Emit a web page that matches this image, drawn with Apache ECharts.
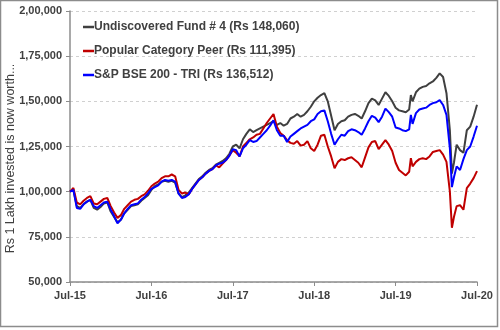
<!DOCTYPE html>
<html>
<head>
<meta charset="utf-8">
<script src="https://cdn.jsdelivr.net/npm/echarts@6/dist/echarts.min.js"></script>
<style>
html,body{margin:0;padding:0;background:#fff;}
#c{width:500px;height:330px;}
</style>
</head>
<body>
<div id="c"></div>
<script>
// months since Jul-2015
const months = [0,0.5,1,1.5,2,2.5,3,3.5,4,4.5,5,5.5,6,6.5,7,7.5,8,8.5,9,9.5,10,10.5,11,11.5,
12,12.5,13,13.5,14,14.5,15,15.5,16,16.5,17,17.5,18,18.5,19,19.5,20,20.5,21,21.5,22,22.5,23,23.5,
24,24.5,25,25.5,26,26.5,27,27.5,28,28.5,29,29.5,30,30.5,31,31.5,32,32.5,33,33.5,34,34.5,35,35.5,
36,36.5,37,37.5,38,38.5,39,39.5,40,40.5,41,41.5,42,42.5,43,43.5,44,44.5,45,45.5,46,46.5,47,47.5,
48,48.5,49,49.5,50,50.25,50.5,51,51.5,52,52.5,53,53.5,54,54.5,55,55.5,56,56.3,56.6,57,57.5,58,58.5,59,59.5,60];

// values in thousands of Rs
const fund = [100,101,92,91,93,94.5,95.5,91,90,91.5,93.5,94,89,86,83,84.5,88,90,92,92.5,93,95,96.5,98,
101,103,104,105.5,106,105.5,106,105,99,97,98,99.5,102,104.5,107,108.5,110.5,112,113,115,116,117,118.5,121,
125,126,124,129,132,134.5,133,134,135,136,137,138,139,137,138,136.5,137.5,140.5,141.5,143,141.5,142.5,144.5,147,
150,152,153.5,154.5,150,142,134,137.5,139,139.5,141.5,142.5,143,142,140.5,144.5,149,151.5,150.5,148,151.5,155,153,150,
146.5,145,144.5,144,145.5,153.5,150,155,157,158,158.5,160,161,163,165.5,163.5,154.5,134,110,116,126,123,121.5,134,136,141.5,148.06];

const peer = [100,102,94,93,95,96.5,97.5,93.5,93,94.5,96,96.5,92,88.5,85.5,87,90.5,92.5,94.5,95.5,96,97.5,98.5,100.5,
103,104.5,105.5,107.5,108.5,108.5,109.5,108.5,101,99,99.5,98.5,101.5,104,106.5,108,110,111.5,112.5,114.5,113.5,115.5,117.5,120,
123,121.5,119.5,125,127,129,130,131.5,132,135,138,140.5,143,136,132.5,131,128.5,127,126.5,128,125.5,126,128,124,
122.5,126,131,131.5,125,119.5,113,116.5,118,117.5,118.5,119,117.5,116,113.5,119,124.5,127.5,128,123.5,126,128.5,126,122.5,
116,112,110.5,109,111,118.5,114,116.5,118,118.5,118,119.5,122,122.5,123,120.5,116.5,100,80,86,92,92.5,90,102,104.5,107.5,111.395];

const bse = [100,101,91,90.5,93,94.5,95.5,92,91,92.5,94,94.5,90,86.5,82.5,84.5,88,90.5,92.5,93,93.5,95.5,97,99,
101.5,102.5,103.5,105.5,106.5,106,106.5,105.5,99,96.5,97,98.5,101.5,104,106.5,108,110,111.5,112.5,114.5,115.5,116,117.5,120,
123.5,123,119.5,124,126,128.5,127.5,128,130,132,134,136.5,139.5,134,131,131,127.5,130.5,132,133.5,135,136,137,139,
140,143,144.5,145,139,132,126,129,131.5,131,133.5,134.5,134,133,131.5,135,139,142,141,138.5,141.5,146,144,141.5,
135.5,135,134,133.5,134.5,142.5,137.5,143.5,145.5,146,146.5,148,149,149.5,150.7,148,142.5,124,102.5,108,114,112,118,123,125,130.5,136.512];

const xTickLabels = ['Jul-15','Jul-16','Jul-17','Jul-18','Jul-19','Jul-20'];
const seriesNames = ['Undiscovered Fund # 4 (Rs 148,060)','Popular Category Peer (Rs 111,395)','S&P BSE 200 - TRI (Rs 136,512)'];
const seriesColors = ['#404040','#c00000','#0000ff'];
const yAxisTitle = 'Rs 1 Lakh invested is now worth...';

function indian(v){
  const s = String(Math.round(v));
  if (s.length <= 3) return s;
  const last3 = s.slice(-3);
  const rest = s.slice(0,-3).replace(/\B(?=(\d{2})+(?!\d))/g, ',');
  return rest + ',' + last3;
}
function pairs(arr){ return months.map((m,i)=>[m, arr[i]*1000]); }

const chart = echarts.init(document.getElementById('c'), null, {renderer:'canvas'});
const txt = '#404040';
chart.setOption({
  animation:false,
  backgroundColor:'#fff',
  graphic:[{type:'rect', shape:{x:0.5,y:0.5,width:497,height:326}, style:{fill:'none', stroke:'#8c8c8c', lineWidth:1.5}, silent:true}],
  grid:{left:70,right:23,top:11,bottom:48, outerBoundsMode:'none', containLabel:false},
  legend:{
    left:78, top:15, orient:'vertical', icon:'rect', itemWidth:11, itemHeight:2.5, itemGap:10,
    textStyle:{fontFamily:'Liberation Sans', fontSize:12, fontWeight:'bold', color:txt, padding:[0,0,0,-5], lineHeight:14},
    data:seriesNames
  },
  xAxis:{
    type:'value', min:0, max:60, interval:12,
    axisLine:{lineStyle:{color:'#8c8c8c', width:1.5}},
    axisTick:{show:true, length:4, lineStyle:{color:'#8c8c8c'}},
    splitLine:{show:false},
    axisLabel:{margin:8, fontFamily:'Liberation Sans', fontSize:11, fontWeight:'bold', color:txt,
      formatter:(v)=>xTickLabels[Math.round(v/12)]}
  },
  yAxis:{
    type:'value', min:50000, max:200000, interval:25000,
    name:yAxisTitle, nameLocation:'middle', nameGap:53, nameMoveOverlap:false,
    nameTextStyle:{fontFamily:'Liberation Sans', fontSize:12.5, color:txt, padding:[0,24,0,0]},
    axisLine:{show:true, lineStyle:{color:'#8c8c8c', width:1.5}},
    axisTick:{show:true, length:4, lineStyle:{color:'#8c8c8c'}},
    splitLine:{show:true, lineStyle:{color:'#d0d0d0', type:[3,3], width:1}},
    axisLabel:{margin:8, fontFamily:'Liberation Sans', fontSize:11, fontWeight:'bold', color:txt, formatter:indian}
  },
  series:[fund, peer, bse].map((arr,i)=>({
    name:seriesNames[i], type:'line', data:pairs(arr), symbol:'none', showSymbol:false,
    lineStyle:{width:2, color:seriesColors[i]}, itemStyle:{color:seriesColors[i]}
  }))
});
</script>
</body>
</html>
